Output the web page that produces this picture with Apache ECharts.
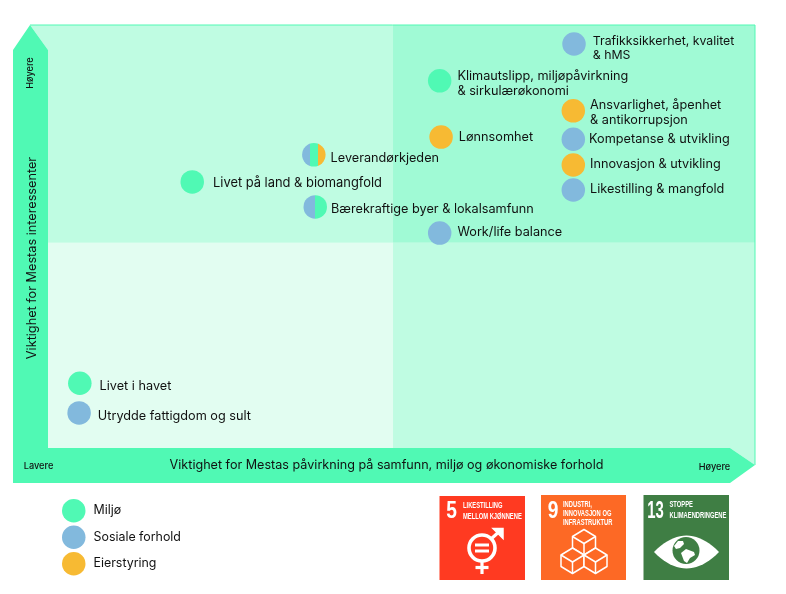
<!DOCTYPE html>
<html>
<head>
<meta charset="utf-8">
<style>
  html, body { margin: 0; padding: 0; background: #fff; }
  #chart { width: 786px; height: 594px; }
</style>
<script src="https://cdn.jsdelivr.net/npm/echarts@6/dist/echarts.min.js"></script>
</head>
<body>
<div id="chart"></div>
<script>
// values on a 0-100 scale for each axis
const miljoNames = ["Klimautslipp, miljøpåvirkning\n& sirkulærøkonomi", "Livet på land & biomangfold", "Livet i havet"];
const miljoX = [55.4, 20.4, 4.5];
const miljoY = [86.8, 62.9, 15.3];

const sosialeNames = ["Trafikksikkerhet, kvalitet\n& hMS", "Kompetanse & utvikling", "Likestilling & mangfold", "Work/life balance", "Utrydde fattigdom og sult"];
const sosialeX = [74.4, 74.3, 74.3, 55.4, 4.4];
const sosialeY = [95.5, 73.0, 61.0, 50.8, 8.3];

const eierNames = ["Ansvarlighet, åpenhet\n& antikorrupsjon", "Lønnsomhet", "Innovasjon & utvikling"];
const eierX = [74.3, 55.6, 74.3];
const eierY = [79.7, 73.5, 66.9];

const delteNames = ["Leverandørkjeden", "Bærekraftige byer & lokalsamfunn"];
const delteX = [37.6, 37.8];
const delteY = [69.3, 57.0];

const quadX = [0, 48.8, 100];
const quadY = [0, 48.5, 100];

const xTitle = "Viktighet for Mestas påvirkning på samfunn, miljø og økonomiske forhold";
const yTitle = "Viktighet for Mestas interessenter";
const legendNames = ["Miljø", "Sosiale forhold", "Eierstyring"];

const GREEN = "#50F9B4", BLUE = "#82B9DD", ORANGE = "#F7BA33";
const FONT = "Inter";

// label tweaks, [distance, dy, font size]
const nudge = {
  "Klimautslipp, miljøpåvirkning\n& sirkulærøkonomi": [6, 3, 12.7],
  "Livet på land & biomangfold": [9, 1, 12.9],
  "Livet i havet": [8, 3, 12.7],
  "Trafikksikkerhet, kvalitet\n& hMS": [7, 4.5, 12.3],
  "Kompetanse & utvikling": [4, 0, 12.7],
  "Likestilling & mangfold": [5, -1, 12.7],
  "Work/life balance": [6, -1, 12.7],
  "Utrydde fattigdom og sult": [7, 3, 12.7],
  "Ansvarlighet, åpenhet\n& antikorrupsjon": [5, 2, 12.7],
  "Lønnsomhet": [6, 0, 12.7],
  "Innovasjon & utvikling": [5, -1, 12.7],
  "Leverandørkjeden": [5, 3, 12.7],
  "Bærekraftige byer & lokalsamfunn": [4, 2, 12.7]
};

function pts(names, xs, ys) {
  return names.map((n, i) => {
    const t = nudge[n];
    return {
      name: n,
      value: [xs[i], ys[i]],
      label: { distance: t[0], offset: [0, t[1]], fontSize: t[2] }
    };
  });
}

// hard-edged stripes for dots that belong to several areas
function stripes(colors) {
  const stops = [];
  colors.forEach((c, i) => {
    stops.push({ offset: i / colors.length, color: c });
    stops.push({ offset: (i + 1) / colors.length, color: c });
  });
  return new echarts.graphic.LinearGradient(0, 0, 1, 0, stops);
}

const dotLabel = {
  show: true,
  position: "right",
  formatter: "{b}",
  color: "#111",
  fontFamily: FONT,
  fontSize: 12.7,
  lineHeight: 14.5
};

function scatter(name, color, data) {
  return {
    name: name,
    type: "scatter",
    symbolSize: 23.5,
    itemStyle: { color: color, opacity: 1 },
    label: dotLabel,
    data: data,
    z: 4
  };
}

const delteData = pts(delteNames, delteX, delteY);
delteData[0].itemStyle = { color: stripes([BLUE, GREEN, ORANGE]) };
delteData[1].itemStyle = { color: stripes([BLUE, GREEN]) };

const Q = [["#E2FDF1", "#BFFCE2"], ["#BFFCE2", "#A0FAD5"]];
const quadrants = [];
for (let r = 0; r < 2; r++) {
  for (let c = 0; c < 2; c++) {
    quadrants.push([
      { xAxis: quadX[c], yAxis: quadY[r], itemStyle: { color: Q[r][c], opacity: 1 } },
      { xAxis: quadX[c + 1], yAxis: quadY[r + 1] }
    ]);
  }
}

function txt(x, y, text, o) {
  return {
    type: "text", x: x, y: y, z: 6, rotation: o.rot || 0, scaleX: o.sx || 1,
    style: Object.assign({
      text: text, fill: "#fff", fontFamily: FONT, fontSize: 8,
      verticalAlign: "middle"
    }, o)
  };
}
function sdgText(x, y, text) {
  return txt(x, y, text, { fontFamily: "Liberation Sans", fontWeight: "bold", fontSize: 8.4, sx: 0.69 });
}
function sdgNum(x, y, text, sx) {
  return txt(x, y, text, { fontFamily: "Liberation Sans", fontWeight: "bold", fontSize: 24, align: "center", sx: sx });
}
function tile(x, y, w, h, color) {
  return { type: "rect", z: 5, shape: { x: x, y: y, width: w, height: h }, style: { fill: color } };
}
function bar(x, y, w, h) {
  return { type: "rect", z: 6, shape: { x: x, y: y, width: w, height: h }, style: white };
}
function poly(points, style) {
  return { type: "polygon", z: 6, shape: { points: points }, style: style };
}
function stroke(points, style) {
  return { type: "polyline", z: 6, shape: { points: points }, style: style };
}
function cube(cx, top) {
  const w = 11.5, s = 7, h = 11.5;
  return [
    poly([[cx, top], [cx + w, top + s], [cx + w, top + s + h], [cx, top + 2 * s + h], [cx - w, top + s + h], [cx - w, top + s]], cubeStyle),
    stroke([[cx - w, top + s], [cx, top + 2 * s], [cx + w, top + s]], cubeLine),
    stroke([[cx, top + 2 * s], [cx, top + 2 * s + h]], cubeLine)
  ];
}
// outline of the eye on SDG 13
function eye() {
  const out = [];
  for (let t = 0; t <= 1.001; t += 0.05) {
    out.push([654 + 65 * t, 552 - 66 * t * (1 - t)]);
  }
  for (let t = 1; t >= -0.001; t -= 0.05) {
    out.push([654 + 65 * t, 552 + 66 * t * (1 - t)]);
  }
  return out;
}

const white = { fill: "#fff" };
const line = { fill: "none", stroke: "#fff", lineWidth: 3.2 };
const cubeStyle = { fill: "#FD6925", stroke: "#fff", lineWidth: 1.5, lineJoin: "round" };
const cubeLine = { fill: "none", stroke: "#fff", lineWidth: 1.5 };
const smallText = { fill: "#111", fontSize: 9.2, align: "center", fontWeight: 500 };

const graphics = [
  // axis arrows and the light pieces beside their heads
  { type: "polygon", z: 0, shape: { points: [[30, 25], [48, 25], [48, 50]] }, style: { fill: "#BFFCE2" } },
  { type: "polygon", z: 0, shape: { points: [[730, 448], [755, 448], [755, 465]] }, style: { fill: "#BFFCE2" } },
  { type: "polyline", z: 5, shape: { points: [[30, 25], [755, 25], [755, 465]] }, style: { fill: "none", stroke: GREEN, lineWidth: 1 } },
  {
    type: "polygon", z: 5,
    shape: { points: [[30, 25], [48, 50], [48, 448], [730, 448], [755, 465], [730, 483], [13, 483], [13, 50]] },
    style: { fill: GREEN }
  },
  txt(30, 73, "Høyere", Object.assign({ rot: Math.PI / 2 }, smallText)),
  txt(38.5, 466.5, "Lavere", smallText),
  txt(714.5, 467, "Høyere", smallText),

  // SDG 5
  tile(439.5, 496, 85.5, 84, "#FF3A21"),
  sdgNum(451.5, 511.5, "5", 0.8),
  sdgText(463, 506, "LIKESTILLING"),
  sdgText(463, 516.5, "MELLOM KJØNNENE"),
  { type: "circle", z: 6, shape: { cx: 482, cy: 548, r: 13 }, style: { fill: "none", stroke: "#fff", lineWidth: 3.6 } },
  stroke([[491, 539], [501, 530]], line),
  stroke([[482, 561], [482, 574]], line),
  stroke([[475.5, 567.5], [488.5, 567.5]], line),
  poly([[493, 528.5], [503, 528.5], [503, 538.5]], { fill: "#fff", stroke: "#fff", lineWidth: 1.5 }),
  bar(475, 543.5, 14, 3),
  bar(475, 549.5, 14, 3),

  // SDG 9
  tile(541, 495, 85, 85, "#FD6925"),
  sdgNum(553, 511.5, "9", 0.8),
  sdgText(563, 505, "INDUSTRI,"),
  sdgText(563, 514, "INNOVASJON OG"),
  sdgText(563, 523, "INFRASTRUKTUR"),
  ...cube(584, 529.5),
  ...cube(572.5, 548),
  ...cube(595.5, 548),

  // SDG 13
  tile(643.5, 495, 85.5, 85, "#3F7E44"),
  sdgNum(655.5, 511.5, "13", 0.62),
  sdgText(669.5, 505, "STOPPE"),
  sdgText(669.5, 515.5, "KLIMAENDRINGENE"),
  poly(eye(), white),
  { type: "circle", z: 6, shape: { cx: 686, cy: 550.5, r: 13.5 }, style: { fill: "#3F7E44" } },
  poly([[674, 546], [678, 541], [683, 541], [684, 544], [680, 548], [676, 549]], white),
  poly([[681, 553], [686, 549], [694, 552], [695, 555], [690, 558], [687, 563], [684, 561]], white)
];

const option = {
  animation: false,
  backgroundColor: "#fff",
  grid: { left: 48, right: 31, top: 25, bottom: 146 },
  xAxis: {
    type: "value", min: 0, max: 100,
    name: xTitle, nameLocation: "middle", nameGap: 11,
    nameTextStyle: { color: "#111", fontFamily: FONT, fontSize: 12.6, padding: [0, 30, 0, 0] },
    axisLine: { show: false }, axisTick: { show: false }, axisLabel: { show: false }, splitLine: { show: false },
    z: 7
  },
  yAxis: {
    type: "value", min: 0, max: 100,
    name: yTitle, nameLocation: "middle", nameGap: 9,
    nameTextStyle: { color: "#111", fontFamily: FONT, fontSize: 12.7, padding: [0, 43, 0, 0] },
    axisLine: { show: false }, axisTick: { show: false }, axisLabel: { show: false }, splitLine: { show: false },
    z: 7
  },
  legend: {
    data: legendNames.map(n => ({ name: n, icon: "circle" })),
    orient: "vertical", left: 57, top: 494,
    itemWidth: 23.5, itemHeight: 23.5, itemGap: 3,
    selectedMode: false,
    textStyle: { color: "#111", fontFamily: FONT, fontSize: 12.4, padding: [0, 0, 0, 3] }
  },
  graphic: graphics,
  series: [
    {
      name: "Kvadranter", type: "scatter", data: [], silent: true, z: 1,
      markArea: { silent: true, data: quadrants }
    },
    scatter(legendNames[0], GREEN, pts(miljoNames, miljoX, miljoY)),
    scatter(legendNames[1], BLUE, pts(sosialeNames, sosialeX, sosialeY)),
    scatter(legendNames[2], ORANGE, pts(eierNames, eierX, eierY)),
    scatter("Delt", BLUE, delteData)
  ]
};

const chart = echarts.init(document.getElementById("chart"));
chart.setOption(option);
</script>
</body>
</html>
